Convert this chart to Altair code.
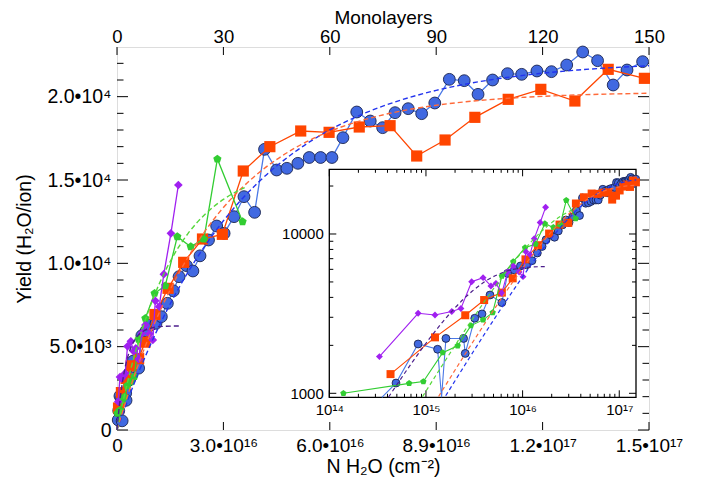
import altair as alt
import pandas as pd

# ---------------- data (monolayers, yield in H2O/ion) ----------------
blue_ml = [0.35, 0.49, 0.83, 1.32, 1.45, 1.61, 2.45, 2.55, 3.2, 3.8, 4.6, 6.1, 7.0, 8.2, 9.5,
           11.0, 12.5, 14.2, 15.9, 17.5, 19.6, 21.4, 23.4, 25.8, 28.1, 30.2, 33.0, 35.8, 38.8,
           41.6, 45.0, 47.9, 51.0, 54.2, 57.4, 60.6, 63.7, 67.6, 71.4, 74.9, 78.4, 82.1, 85.9,
           89.6, 93.7, 97.9, 101.8, 105.9, 110.1, 114.1, 118.4, 122.5, 126.8, 131.3, 135.5,
           139.9, 143.8, 148.2]
blue_y = [600, 1160, 2040, 1890, 550, 2210, 2210, 1780, 2960, 3150, 4140, 3710, 5660, 5950, 6300,
          6400, 6800, 7600, 8350, 9200, 9860, 9540, 10450, 11400, 12240, 11800, 12800, 14000, 13060,
          16840, 15600, 15700, 16000, 16350, 16350, 16350, 17540, 19080, 18540, 18140, 19040, 19280, 18980,
          19620, 21040, 20960, 20140, 21000, 21380, 21340, 21540, 21500, 21900, 22680, 22160,
          20700, 21600, 22100]

orange_ml = [0.43, 1.24, 2.55, 4.0, 6.1, 7.9, 10.7, 14.4, 18.8, 24.1, 29.7, 35.6, 43.1, 51.8,
             59.8, 68.3, 77.0, 84.5, 92.5, 100.9, 110.3, 119.5, 129.1, 138.5, 148.7]
orange_y = [1320, 2245, 3090, 3850, 4285, 5270, 6930, 8500, 10060, 11460, 11740, 15540, 17000, 17940,
            17860, 18180, 18260, 16440, 17400, 18760, 19840, 20440, 19740, 21640, 21100]

green_ml = [0.14, 0.67, 0.94, 1.49, 2.13, 2.92, 3.9, 4.9, 6.1, 8.0, 10.6, 13.6, 17.0, 20.8, 24.5, 28.3, 35.4]
green_y = [1000, 1155, 1185, 1800, 1990, 2660, 2890, 3210, 5445, 6700, 8200, 8650, 11600, 11000, 11460, 16260, 12500]

purple_ml = [0.33, 0.83, 1.24, 1.85, 2.3, 2.97, 3.9, 4.7, 5.3, 6.1, 7.0, 8.0, 9.2, 10.1, 10.8, 11.9, 13.2, 15.2, 17.3]
purple_y = [1700, 3180, 3100, 3260, 3410, 5020, 5320, 4720, 4900, 4250, 5800, 6300, 5770, 5400, 7750, 7400, 9350, 11800, 14700]

# dashed fit curves
fit_blue_ml = [0, 1.6, 2.5, 4, 6, 9, 12, 16, 20, 25, 30, 35, 40, 50, 60, 70, 80, 90, 100, 115, 130, 150]
fit_blue_y = [0, 965, 1489, 2335, 3408, 4910, 6293, 7965, 9462, 11113, 12552, 13802, 14892, 16663,
              18006, 19023, 19793, 20377, 20819, 21290, 21600, 21856]
fit_orange_ml = [0, 1.35, 2.5, 4, 6, 9, 12, 16, 20, 25, 30, 35, 40, 50, 60, 70, 80, 90, 100, 115, 130, 150]
fit_orange_y = [0, 955, 1734, 2702, 3916, 5581, 7076, 8836, 10363, 11987, 13347, 14484, 15434, 16898,
                17919, 18633, 19135, 19484, 19730, 19965, 20105, 20205]
fit_green_ml = [0, 0.92, 1.5, 2.5, 4, 6, 9, 12, 16, 20, 25, 30, 36]
fit_green_y = [0, 952, 1523, 2456, 3744, 5275, 7219, 8811, 10494, 11782, 12978, 13835, 14549]
fit_purple_ml = [0, 0.41, 0.7, 1.0, 1.5, 2.0, 3.0, 4.0, 5.5, 7.5, 10, 13, 17.5]
fit_purple_y = [0, 946, 1526, 2061, 2820, 3442, 4367, 4988, 5557, 5939, 6136, 6216, 6244]

# axes
main_x_ticks = [0, 30, 60, 90, 120, 150]
main_x_bottom_labels = ['0', '3.0•10¹⁶', '6.0•10¹⁶', '8.9•10¹⁶', '1.2•10¹⁷', '1.5•10¹⁷']
main_x_top_labels = ['0', '30', '60', '90', '120', '150']
main_y_ticks = [0, 5000, 10000, 15000, 20000]
main_y_labels = ['0', '5.0•10³', '1.0•10⁴', '1.5•10⁴', '2.0•10⁴']
main_y_minor = [v for v in range(1000, 23000, 1000) if v % 5000 != 0]
inset_x_ticks = [1e14, 1e15, 1e16, 1e17]
inset_x_labels = ['10¹⁴', '10¹⁵', '10¹⁶', '10¹⁷']
inset_x_minor = [k * 10.0 ** e for e in (14, 15, 16) for k in range(2, 10)]
inset_y_ticks = [1000, 10000]
inset_y_labels = ['1000', '10000']
inset_y_minor = [2000, 3000, 4000, 5000, 6000, 7000, 8000, 9000, 20000]

ML_TO_N = 1e15  # cm^-2 per monolayer

# ---------------- layout ----------------
FONT = 'Liberation Sans'
W, H = 532, 383
IX0, IX1 = 212.3, 519.0   # inset left/right (px in plot)
IY0, IY1 = 122.3, 350.3   # inset top/bottom

MX = alt.Scale(domain=[0, 150], nice=False, zero=False)
MY = alt.Scale(domain=[0, 22980], nice=False, zero=False)
IXS = alt.Scale(type='log', domain=[1e14, 1.49e17], range=[IX0, IX1], nice=False)
IYS = alt.Scale(type='log', domain=[944, 25470], range=[IY1, IY0], nice=False, clamp=True)


def frame(ml, y):
    return pd.DataFrame({'ml': ml, 'Y': y, 'N': [m * ML_TO_N for m in ml]})


def lab_expr(values, labels):
    expr = "''"
    for v, l in reversed(list(zip(values, labels))):
        expr = f"abs(datum.value - {v!r}) < {abs(v) * 1e-6 + 1e-9!r} ? '{l}' : {expr}"
    return expr


def vticks(values, scale, y0, y1, axis=None):
    df = pd.DataFrame({'v': values})
    return alt.Chart(df).mark_rule(color='black', strokeWidth=1).encode(
        x=alt.X('v:Q', scale=scale, axis=axis), y=alt.value(y0), y2=alt.value(y1))


def hticks(values, scale, x0, x1, axis=None):
    df = pd.DataFrame({'v': values})
    return alt.Chart(df).mark_rule(color='black', strokeWidth=1).encode(
        y=alt.Y('v:Q', scale=scale, axis=axis), x=alt.value(x0), x2=alt.value(x1))


common_axis = dict(ticks=False, domain=False, grid=False, labelFont=FONT, labelColor='black',
                   labelFlush=False, labelOverlap=False, tickSize=0)
title_style = dict(titleFont=FONT, titleFontWeight='normal', titleColor='black')

ax_bottom = alt.Axis(orient='bottom', values=main_x_ticks,
                     labelExpr=lab_expr(main_x_ticks, main_x_bottom_labels),
                     labelFontSize=19, labelPadding=21, labelBaseline='alphabetic',
                     title='N H₂O (cm⁻²)', titleFontSize=19.5, titleX=W / 2, titleY=42,
                     titleBaseline='alphabetic', **title_style, **common_axis)
ax_top = alt.Axis(orient='top', values=main_x_ticks,
                  labelExpr=lab_expr(main_x_ticks, main_x_top_labels),
                  labelFontSize=18.5, labelPadding=4.5, labelBaseline='alphabetic',
                  title='Monolayers', titleFontSize=19, titleX=W / 2, titleY=-23.5,
                  titleBaseline='alphabetic', **title_style, **common_axis)
ax_left = alt.Axis(orient='left', values=main_y_ticks,
                   labelExpr=lab_expr(main_y_ticks, main_y_labels),
                   labelFontSize=19.5, labelPadding=6, title='Yield (H₂O/ion)',
                   titleFontSize=19.5, titleX=-93, titleY=H / 2, titleAngle=270,
                   titleBaseline='middle', **title_style, **common_axis)
ax_inset_bottom = alt.Axis(orient='bottom', offset=-(H - IY1), values=inset_x_ticks,
                           labelExpr=lab_expr(inset_x_ticks, inset_x_labels),
                           labelFontSize=15, labelPadding=5, title=None, **common_axis)
ax_inset_left = alt.Axis(orient='left', offset=-IX0, values=inset_y_ticks,
                         labelExpr=lab_expr(inset_y_ticks, inset_y_labels),
                         labelFontSize=15, labelPadding=6, title=None, **common_axis)

layers = []

# main frame ticks (inward)
layers.append(vticks(main_x_ticks, MX, H, H - 8, ax_bottom))
layers.append(vticks(main_x_ticks, MX, 0, 8, ax_top))
layers.append(hticks(main_y_ticks, MY, 0, 11, ax_left))
layers.append(hticks(main_y_minor, MY, 0, 6.5))
layers.append(hticks(main_y_ticks, MY, W, W - 11))
layers.append(hticks(main_y_minor, MY, W, W - 6.5))

PENT = 'M0,-1L0.951,-0.309L0.588,0.809L-0.588,0.809L-0.951,-0.309Z'

series = [
    # df, line colour, shape, main size, inset size, fill, stroke
    (frame(blue_ml, blue_y), '#4a78e6', 'circle', 140, 62, '#4169E1', '#1b2550'),
    (frame(orange_ml, orange_y), '#FF4500', 'square', 125, 64, '#FF4500', None),
    (frame(green_ml, green_y), '#32CD32', PENT, 75, 45, '#32CD32', None),
    (frame(purple_ml, purple_y), '#A020F0', 'diamond', 75, 48, '#A020F0', None),
]
fits = [
    (frame(fit_blue_ml, fit_blue_y), '#2233ee'),
    (frame(fit_orange_ml, fit_orange_y), '#ff6a3a'),
    (frame(fit_green_ml, fit_green_y), '#55d83a'),
    (frame(fit_purple_ml, fit_purple_y), '#4c1f8c'),
]


def point_kw(shape, size, fill, stroke):
    kw = dict(shape=shape, size=size, filled=True, fill=fill, opacity=1)
    if stroke:
        kw.update(stroke=stroke, strokeWidth=0.9)
    else:
        kw.update(strokeWidth=0)
    return kw


# main plot data
for df, lc, shape, s_main, s_in, fill, stroke in series:
    base = alt.Chart(df)
    layers.append(base.mark_line(color=lc, strokeWidth=1.3).encode(
        x=alt.X('ml:Q', scale=MX, axis=None), y=alt.Y('Y:Q', scale=MY, axis=None)))
    layers.append(base.mark_point(**point_kw(shape, s_main, fill, stroke)).encode(
        x=alt.X('ml:Q', scale=MX, axis=None), y=alt.Y('Y:Q', scale=MY, axis=None)))
for df, fc in fits:
    layers.append(alt.Chart(df).mark_line(color=fc, strokeWidth=1.4, strokeDash=[5, 3],
                                          interpolate='monotone').encode(
        x=alt.X('ml:Q', scale=MX, axis=None), y=alt.Y('Y:Q', scale=MY, axis=None)))

# inset background and frame
inset_box = pd.DataFrame({'x0': [1e14], 'x1': [1.49e17], 'y0': [944], 'y1': [25470]})
layers.append(alt.Chart(inset_box).mark_rect(fill='white', stroke='black', strokeWidth=1.3).encode(
    x=alt.X('x0:Q', scale=IXS, axis=None), x2='x1',
    y=alt.Y('y0:Q', scale=IYS, axis=None), y2='y1'))

# inset ticks
layers.append(vticks(inset_x_ticks, IXS, IY1, IY1 - 7, ax_inset_bottom))
layers.append(vticks(inset_x_minor, IXS, IY1, IY1 - 3.5))
layers.append(vticks(inset_x_ticks, IXS, IY0, IY0 + 7))
layers.append(vticks(inset_x_minor, IXS, IY0, IY0 + 3.5))
layers.append(hticks(inset_y_ticks, IYS, IX0, IX0 + 7, ax_inset_left))
layers.append(hticks(inset_y_minor, IYS, IX0, IX0 + 4))
layers.append(hticks(inset_y_ticks, IYS, IX1, IX1 - 7))
layers.append(hticks(inset_y_minor, IYS, IX1, IX1 - 4))

# inset data
for df, lc, shape, s_main, s_in, fill, stroke in series:
    base = alt.Chart(df)
    layers.append(base.mark_line(color=lc, strokeWidth=1.1).encode(
        x=alt.X('N:Q', scale=IXS, axis=None), y=alt.Y('Y:Q', scale=IYS, axis=None)))
    layers.append(base.transform_filter('datum.Y >= 944').mark_point(
        **point_kw(shape, s_in, fill, stroke)).encode(
        x=alt.X('N:Q', scale=IXS, axis=None), y=alt.Y('Y:Q', scale=IYS, axis=None)))
for df, fc in fits:
    layers.append(alt.Chart(df).transform_filter('datum.Y >= 944').mark_line(
        color=fc, strokeWidth=1.2, strokeDash=[4, 3], interpolate='monotone').encode(
        x=alt.X('N:Q', scale=IXS, axis=None), y=alt.Y('Y:Q', scale=IYS, axis=None)))

chart = alt.layer(*layers).resolve_scale(
    x='independent', y='independent').resolve_axis(x='independent', y='independent').properties(
    width=W, height=H,
    autosize=alt.AutoSizeParams(type='none'),
    padding={'left': 109, 'top': 39, 'right': 55, 'bottom': 47},
).configure_view(stroke='black', strokeWidth=1.3).configure(background='white')

chart.save('out.html', embed_options={'renderer': 'svg', 'actions': False})
